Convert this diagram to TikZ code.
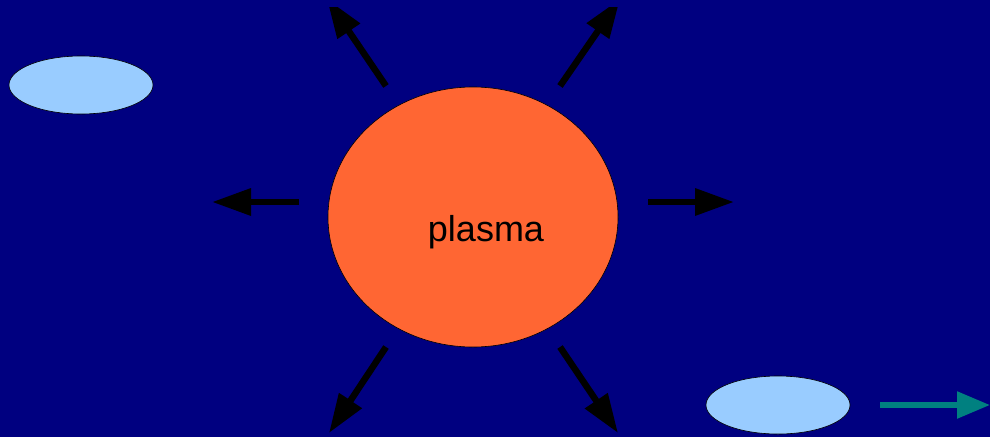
\documentclass[tikz,border=0pt]{standalone}
\usepackage{fontspec}
\setmainfont{Liberation Sans}
\usepackage{tikz}
\usetikzlibrary{positioning,arrows.meta,shapes.geometric}
\definecolor{sky}{HTML}{000080}
\definecolor{plasmaorange}{HTML}{FF6633}
\definecolor{droplet}{HTML}{99CCFF}
\definecolor{drift}{HTML}{008080}

\begin{document}
\begin{tikzpicture}[x=1pt,y=-1pt,
    blob/.style={ellipse,draw=black,line width=0.6pt,inner sep=0pt},
    ray/.style={draw=black,line width=6.5pt,-{Triangle[length=39pt,width=26pt]}}]
    \fill[sky] (0,0) rectangle (990,437);
    \useasboundingbox (0,0) rectangle (990,437);

    \node[blob,fill=plasmaorange,minimum width=290pt,minimum height=260pt] (plasma) at (473,217) {};
    \node[font=\fontsize{36}{40}\selectfont,inner sep=0pt] (plasmalabel) at (486,232) {plasma};

    % the rays leaving the plasma; the upper two are cut off near the top edge
    \begin{scope}
      \clip (0,7) rectangle (990,437);
      \foreach \n/\tx/\ty/\hx/\hy in {%
        nw/386/86/327/-1, ne/560/86/620/-1,
        w/299/202/212/202, e/648/202/734/202,
        sw/386/347/329/433, se/560/347/618/433}{
        \coordinate (tail-\n) at (\tx,\ty);
        \coordinate (head-\n) at (\hx,\hy);
        \draw[ray] (tail-\n) -- (head-\n);}
    \end{scope}

    \node[blob,fill=droplet,minimum width=144pt,minimum height=58pt] (dropleft) at (81,85) {};
    \node[blob,fill=droplet,minimum width=144pt,minimum height=58pt] (dropright) at (778,405) {};

    \coordinate (drifttail) at (880,405);
    \coordinate (drifthead) at (990,405);
    \draw[draw=drift,line width=5.5pt,-{Triangle[length=33pt,width=26pt]}] (drifttail) -- (drifthead);
  \end{tikzpicture}
\end{document}
